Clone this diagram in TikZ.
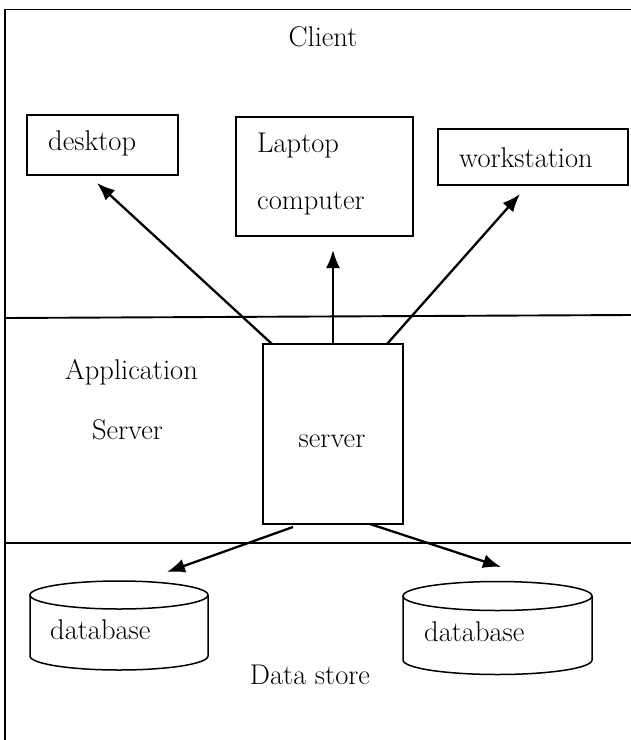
\documentclass[tikz,border=0pt]{standalone}
\usetikzlibrary{arrows.meta}
\begin{document}
\begin{tikzpicture}[x=1pt,y=1pt,
  frame/.style={line width=1.9pt},
  box/.style={draw, line width=1.5pt, rectangle, inner sep=0pt},
  lbl/.style={inner sep=0pt, font=\fontsize{28.5}{34}\selectfont},
  conn/.style={line width=2.3pt, -{Latex[length=18pt,width=14pt]}},
  dbline/.style={line width=1.5pt}]
\useasboundingbox (0,0) rectangle (631,-740);
% frame and layer lines
\draw[frame] (5,-740) -- (5,-9.5) -- (631,-9.5);
\draw[frame] (5,-318) -- (631,-315);
\draw[frame] (5,-543) -- (631,-543);
% client layer
\node[lbl] (client) at (323,-37) {Client};
\node[box, minimum width=151pt, minimum height=60pt] (desk) at (102.5,-145) {};
\node[lbl, anchor=west] (desklbl) at (48,-143) {desktop};
\node[box, minimum width=177pt, minimum height=119pt] (lap) at (324.5,-176.5) {};
\node[lbl, anchor=west] (laplbl1) at (257,-146) {Laptop};
\node[lbl, anchor=west] (laplbl2) at (257,-204) {computer};
\node[box, minimum width=190pt, minimum height=56pt] (ws) at (533,-157) {};
\node[lbl, anchor=west] (wslbl) at (459,-158) {workstation};
% application layer
\node[lbl] (app1) at (131.5,-372) {Application};
\node[lbl] (app2) at (127.5,-430) {Server};
\node[box, minimum width=140pt, minimum height=180pt] (srv) at (333,-434) {};
\node[lbl] (srvlbl) at (332,-441) {server};
% data layer
\coordinate (c1) at (119,-595);
\coordinate (c2) at (497.5,-596);
\draw[dbline] (30,-595) -- (30,-656) arc[start angle=180,end angle=360,x radius=89pt,y radius=14pt] -- (208,-595);
\draw[dbline] (c1) ellipse [x radius=89pt, y radius=14pt];
\draw[dbline] (403,-596) -- (403,-660) arc[start angle=180,end angle=360,x radius=94.5pt,y radius=14.5pt] -- (592,-596);
\draw[dbline] (c2) ellipse [x radius=94.5pt, y radius=14.5pt];
\node[inner sep=0pt, minimum width=178pt, minimum height=89pt] (db1) at (119,-625.5) {};
\node[inner sep=0pt, minimum width=189pt, minimum height=92pt] (db2) at (497.5,-628) {};
\node[lbl, anchor=west] (db1lbl) at (50,-630) {database};
\node[lbl, anchor=west] (db2lbl) at (424,-632) {database};
\node[lbl] (store) at (310,-675) {Data store};
% connectors
\coordinate (s1) at (272,-344);
\coordinate (s2) at (333,-344);
\coordinate (s3) at (387,-344);
\coordinate (s4) at (293,-527);
\coordinate (s5) at (370,-524);
\coordinate (t1) at (97,-183);
\coordinate (t2) at (333,-250);
\coordinate (t3) at (520,-194);
\coordinate (t4) at (167,-572);
\coordinate (t5) at (501,-567);
\draw[conn] (s1) -- (t1);
\draw[conn] (s2) -- (t2);
\draw[conn] (s3) -- (t3);
\draw[conn] (s4) -- (t4);
\draw[conn] (s5) -- (t5);
\end{tikzpicture}
\end{document}
